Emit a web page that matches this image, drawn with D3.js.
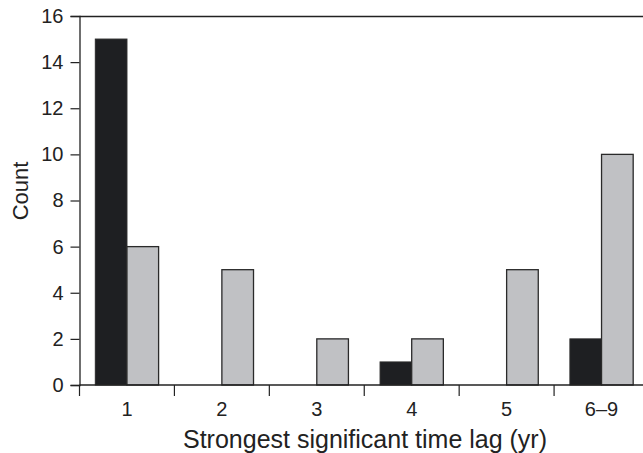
<!DOCTYPE html>
<html>
<head>
<meta charset="utf-8">
<script src="https://cdn.jsdelivr.net/npm/d3@7"></script>
<style>
  body { margin: 0; background: #fff; }
  svg { display: block; font-family: 'Liberation Sans', Arial, sans-serif; }
</style>
</head>
<body>
<svg width="643" height="453"></svg>
<script>
const categories = ['1', '2', '3', '4', '5', '6–9']
const seriesA = [15, 0, 0, 1, 0, 2]   // black
const seriesB = [6, 5, 2, 2, 5, 10]   // gray
const yTicks = [0, 2, 4, 6, 8, 10, 12, 14, 16]

const svg = d3.select('svg')
const mLeft = 79.5, mTop = 16, mBottom = 385, mRight = 649

const x = d3.scaleBand().domain(categories).range([mLeft, mRight])
const y = d3.scaleLinear().domain([0, 16]).range([mBottom, mTop])
const bw = x.bandwidth() / 3
const ink = '#222'

// bars
const g = svg.append('g')
categories.forEach((c, i) => {
    const cx = x(c) + x.bandwidth() / 2
    if (seriesA[i] > 0) {
        g.append('rect')
            .attr('x', cx - bw).attr('y', y(seriesA[i]))
            .attr('width', bw).attr('height', y(0) - y(seriesA[i]))
            .attr('fill', '#1e1f22').attr('stroke', '#2a2a2a').attr('stroke-width', 1)
    }
    if (seriesB[i] > 0) {
        g.append('rect')
            .attr('x', cx).attr('y', y(seriesB[i]))
            .attr('width', bw).attr('height', y(0) - y(seriesB[i]))
            .attr('fill', '#c0c1c4').attr('stroke', '#2a2a2a').attr('stroke-width', 1.3)
    }
})

// frame: top line
svg.append('line')
    .attr('x1', mLeft).attr('x2', 643).attr('y1', mTop + 0.5).attr('y2', mTop + 0.5)
    .attr('stroke', ink).attr('stroke-width', 1.3)

// y axis
const yAxis = svg.append('g')
    .attr('transform', `translate(${mLeft},0)`)
    .call(d3.axisLeft(y).tickValues(yTicks).tickSize(9).tickPadding(7))
yAxis.select('.domain').attr('stroke', ink).attr('stroke-width', 1.3)
yAxis.selectAll('.tick line').attr('stroke', ink).attr('stroke-width', 1.2)
yAxis.selectAll('text').attr('font-size', 20).attr('fill', '#222')

// x axis
const xAxis = svg.append('g')
    .attr('transform', `translate(0,${mBottom})`)
    .call(d3.axisBottom(x).tickSize(0).tickPadding(17))
xAxis.select('.domain').remove()
xAxis.selectAll('text').attr('font-size', 20).attr('fill', '#222')
svg.append('line')
    .attr('x1', mLeft).attr('x2', 643).attr('y1', mBottom).attr('y2', mBottom)
    .attr('stroke', ink).attr('stroke-width', 1.3)
svg.append('g').selectAll('line')
    .data(categories)
    .join('line')
    .attr('x1', d => x(d)).attr('x2', d => x(d))
    .attr('y1', mBottom).attr('y2', mBottom + 11)
    .attr('stroke', ink).attr('stroke-width', 1.2)

// labels
svg.append('text')
    .attr('transform', 'translate(28,191) rotate(-90)')
    .attr('text-anchor', 'middle')
    .attr('font-size', 22).attr('fill', '#222')
    .text('Count')
svg.append('text')
    .attr('x', 365).attr('y', 448)
    .attr('text-anchor', 'middle')
    .attr('font-size', 25).attr('fill', '#222')
    .text('Strongest significant time lag (yr)')
</script>
</body>
</html>
